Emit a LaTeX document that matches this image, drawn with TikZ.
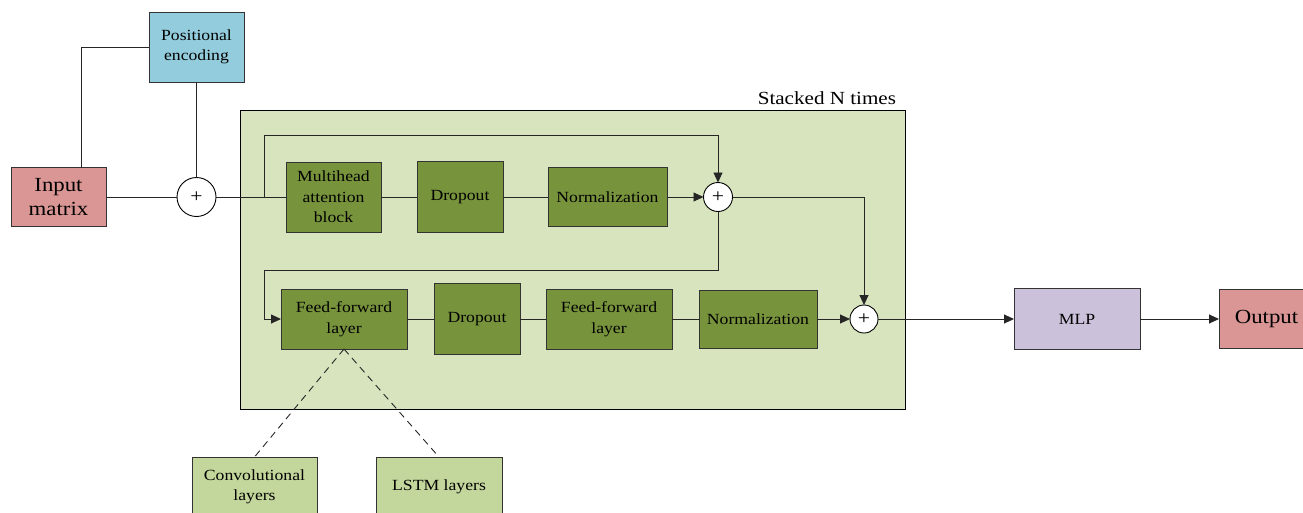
\documentclass[tikz,border=0pt]{standalone}
\usepackage{fontspec}
\setmainfont{Liberation Serif}[FakeStretch=1.14]
\usetikzlibrary{arrows.meta}
\definecolor{peblue}{HTML}{93CDDD}
\definecolor{inred}{HTML}{D99694}
\definecolor{stackbg}{HTML}{D7E4BD}
\definecolor{dgreen}{HTML}{77933C}
\definecolor{mlpc}{HTML}{CCC1DA}
\definecolor{lgreen}{HTML}{C3D69B}
\begin{document}
\begin{tikzpicture}[x=1pt,y=-1pt,
  every node/.style={inner sep=0pt,outer sep=0pt},
  blk/.style={draw=black!80,line width=0.9pt,align=center,font=\fontsize{15.5}{20.5}\selectfont},
  bigt/.style={font=\fontsize{20}{24}\selectfont},
  sumc/.style={circle,draw=black,fill=white,line width=0.9pt,font=\fontsize{19}{19}\selectfont},
  ln/.style={line width=0.9pt,draw=black!85},
  arr/.style={ln,-{Triangle[length=10pt,width=9pt]}},
  dsh/.style={ln,dash pattern=on 7pt off 5pt}]
\useasboundingbox (0,0) rectangle (1303,512);
\clip (0,0) rectangle (1303,512);
% stacked region
\node[draw=black,line width=0.9pt,fill=stackbg,minimum width=665pt,minimum height=299pt] (stack) at (572.5,259.5) {};
\node[anchor=base east,font=\fontsize{18.5}{20}\selectfont] (stk) at (896,104) {Stacked N times};
% nodes
\node[blk,fill=peblue,minimum width=95pt,minimum height=70pt] (pe) at (196.5,47) {Positional\\encoding};
\node[blk,bigt,fill=inred,minimum width=95pt,minimum height=59pt] (inp) at (58.5,197) {Input\\matrix};
\node[sumc,minimum size=39pt] (p1) at (196.5,197) {+};
\node[blk,fill=dgreen,minimum width=95pt,minimum height=70pt] (mha) at (333.5,197) {Multihead\\attention\\block};
\node[blk,fill=dgreen,minimum width=86pt,minimum height=71pt] (dr1) at (460,197) {Dropout};
\node[blk,fill=dgreen,minimum width=119pt,minimum height=59pt] (no1) at (607.5,197) {Normalization};
\node[sumc,minimum size=29pt] (p2) at (718,197) {+};
\node[blk,fill=dgreen,minimum width=126pt,minimum height=60pt] (ff1) at (344,319) {Feed-forward\\layer};
\node[blk,fill=dgreen,minimum width=86pt,minimum height=71pt] (dr2) at (477,319) {Dropout};
\node[blk,fill=dgreen,minimum width=126pt,minimum height=60pt] (ff2) at (609,319) {Feed-forward\\layer};
\node[blk,fill=dgreen,minimum width=118pt,minimum height=58pt] (no2) at (758,319) {Normalization};
\node[sumc,minimum size=28pt] (p3) at (864,319) {+};
\node[blk,fill=mlpc,minimum width=126pt,minimum height=61pt] (mlp) at (1077,319) {MLP};
\node[blk,bigt,fill=inred,minimum width=95pt,minimum height=59pt] (out) at (1266.5,319) {Output};
\node[blk,fill=lgreen,minimum width=125pt,minimum height=60pt] (conv) at (254.5,487) {Convolutional\\layers};
\node[blk,fill=lgreen,minimum width=126pt,minimum height=60pt] (lstm) at (439,487) {LSTM layers};
% coordinates
\coordinate (c0) at (81,47);
\coordinate (s1) at (264,197);
\coordinate (t1) at (718,135);
\coordinate (t2) at (264,270);
% connectors
\draw[ln] (inp.north -| c0) |- (pe.west);
\draw[ln] (pe) -- (p1);
\draw[ln] (inp) -- (p1);
\draw[ln] (p1) -- (mha);
\draw[ln] (mha) -- (dr1);
\draw[ln] (dr1) -- (no1);
\draw[arr] (no1) -- (p2);
\draw[arr] (s1) -- (s1 |- t1) -- (t1) -- (p2);
\draw[arr] (p2) -| (p3);
\draw[arr] (p2) |- (t2) |- (ff1.west);
\draw[ln] (ff1) -- (dr2);
\draw[ln] (dr2) -- (ff2);
\draw[ln] (ff2) -- (no2);
\draw[arr] (no2) -- (p3);
\draw[arr] (p3) -- (mlp);
\draw[arr] (mlp) -- (out);
\draw[dsh] (ff1.south) -- (conv.north);
\draw[dsh] (ff1.south) -- (lstm.north);
\end{tikzpicture}
\end{document}
